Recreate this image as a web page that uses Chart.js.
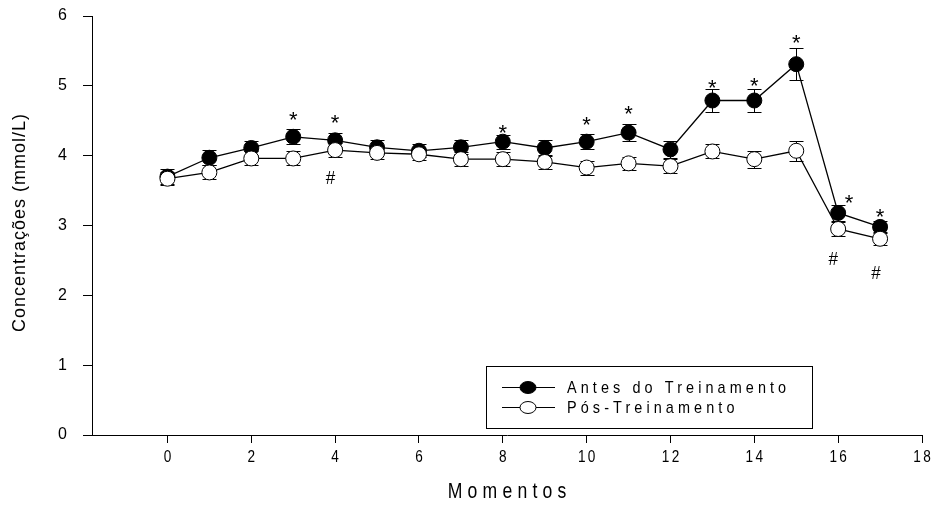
<!DOCTYPE html>
<html>
<head>
<meta charset="utf-8">
<script src="https://cdn.jsdelivr.net/npm/chart.js@4"></script>
<style>
  body { margin: 0; background: #fff; }
  #wrap { width: 935px; height: 506px; }
</style>
</head>
<body>
<div id="wrap"><canvas id="lineChart" width="935" height="506"></canvas></div>
<script>
// momentos de coleta
const momentos = [0, 1, 2, 3, 4, 5, 6, 7, 8, 9, 10, 11, 12, 13, 14, 15, 16, 17];

// Antes do Treinamento (media e erro padrao)
const antes    = [3.70, 3.97, 4.11, 4.27, 4.22, 4.12, 4.07, 4.12, 4.20, 4.11, 4.20, 4.33, 4.09, 4.79, 4.79, 5.31, 3.18, 2.98];
const antesErr = [0.11, 0.11, 0.10, 0.11, 0.10, 0.10, 0.09, 0.10, 0.10, 0.11, 0.11, 0.12, 0.12, 0.17, 0.17, 0.23, 0.11, 0.09];

// Pos-Treinamento
const pos    = [3.67, 3.76, 3.96, 3.96, 4.08, 4.04, 4.02, 3.95, 3.95, 3.91, 3.83, 3.89, 3.85, 4.06, 3.95, 4.07, 2.95, 2.81];
const posErr = [0.09, 0.10, 0.10, 0.10, 0.10, 0.09, 0.08, 0.10, 0.10, 0.10, 0.10, 0.09, 0.10, 0.10, 0.12, 0.14, 0.10, 0.09];

// marcas de significancia (* e #), em unidades do grafico
const starX = [3, 4, 8, 10, 11, 13, 14, 15, 16.26, 17.0];
const starY = [4.58, 4.54, 4.40, 4.51, 4.67, 5.04, 5.07, 5.68, 3.40, 3.19];
const hashX = [3.89, 15.88, 16.9];
const hashY = [3.67, 2.51, 2.31];

const xTicks = [0, 2, 4, 6, 8, 10, 12, 14, 16, 18];
const yTicks = [0, 1, 2, 3, 4, 5, 6];

const FONT = '"Liberation Sans", Arial, sans-serif';

function toXY(ys) {
    return momentos.map((m, i) => ({ x: m, y: ys[i] }));
}

// texto com espacamento entre letras
function drawText(ctx, s, x, y, o) {
    ctx.save();
    ctx.font = o.font;
    ctx.letterSpacing = (o.sp || 0) + 'px';
    ctx.textBaseline = 'middle';
    ctx.textAlign = 'left';
    ctx.fillStyle = '#000';
    ctx.translate(x, y);
    if (o.rot) ctx.rotate(o.rot);
    ctx.scale(o.sx || 1, 1);
    const w = ctx.measureText(s).width - (o.sp || 0);
    let start = -w / 2;
    if (o.align === 'left') start = 0;
    if (o.align === 'right') start = -w;
    ctx.fillText(s, start, 0);
    ctx.restore();
}

const errorBars = {
    id: 'errorBars',
    beforeDatasetsDraw(chart) {
        const ctx = chart.ctx;
        const xs = chart.scales.x, ys = chart.scales.y;
        const series = [[antes, antesErr], [pos, posErr]];
        ctx.save();
        ctx.strokeStyle = '#000';
        ctx.lineWidth = 1;
        series.forEach(([vals, errs]) => {
            vals.forEach((v, i) => {
                const px = Math.round(xs.getPixelForValue(momentos[i])) + 0.5;
                const top = Math.round(ys.getPixelForValue(v + errs[i])) + 0.5;
                const bot = Math.round(ys.getPixelForValue(v - errs[i])) + 0.5;
                ctx.beginPath();
                ctx.moveTo(px, top); ctx.lineTo(px, bot);
                ctx.moveTo(px - 7, top); ctx.lineTo(px + 7, top);
                ctx.moveTo(px - 7, bot); ctx.lineTo(px + 7, bot);
                ctx.stroke();
            });
        });
        ctx.restore();
    }
};

const extras = {
    id: 'extras',
    afterDraw(chart) {
        const ctx = chart.ctx;
        const xs = chart.scales.x, ys = chart.scales.y;
        const ca = chart.chartArea;

        // * e #
        starX.forEach((v, i) => {
            drawText(ctx, '*', xs.getPixelForValue(v), ys.getPixelForValue(starY[i]) + 6, { font: '22px ' + FONT });
        });
        hashX.forEach((v, i) => {
            drawText(ctx, '#', xs.getPixelForValue(v), ys.getPixelForValue(hashY[i]), { font: '19px ' + FONT, sx: 0.9 });
        });

        // rotulos do eixo x
        xTicks.forEach(t => {
            drawText(ctx, String(t), xs.getPixelForValue(t), ca.bottom + 22, { font: '17px ' + FONT, sp: 3, sx: 0.8 });
        });

        // titulos dos eixos
        drawText(ctx, 'Momentos', (ca.left + ca.right) / 2, 492, { font: '22px ' + FONT, sp: 6.5, sx: 0.8 });
        drawText(ctx, 'Concentrações (mmol/L)', 20, 223, { font: '18px ' + FONT, sp: 1, rot: -Math.PI / 2 });

        // legenda
        const lx = ca.left + 394, ly = ca.top + 350;
        ctx.save();
        ctx.strokeStyle = '#000';
        ctx.lineWidth = 1;
        ctx.strokeRect(lx + 0.5, ly + 0.5, 326, 62);
        const rows = [
            { label: 'Antes do Treinamento', fill: '#000', y: ly + 21 },
            { label: 'Pós-Treinamento', fill: '#fff', y: ly + 41 }
        ];
        rows.forEach(r => {
            ctx.beginPath();
            ctx.moveTo(lx + 16, r.y + 0.5);
            ctx.lineTo(lx + 69, r.y + 0.5);
            ctx.stroke();
            ctx.beginPath();
            ctx.ellipse(lx + 42, r.y + 0.5, 8, 6, 0, 0, Math.PI * 2);
            ctx.fillStyle = r.fill;
            ctx.fill();
            ctx.stroke();
            drawText(ctx, r.label, lx + 81, r.y + 1, { font: '17px ' + FONT, sp: 4.8, sx: 0.85, align: 'left' });
        });
        ctx.restore();
    }
};

new Chart(document.getElementById('lineChart').getContext('2d'), {
    type: 'line',
    data: {
        datasets: [{
            label: 'Antes do Treinamento',
            data: toXY(antes),
            borderColor: '#000',
            borderWidth: 1.3,
            backgroundColor: '#000',
            pointBackgroundColor: '#000',
            pointBorderColor: '#000',
            pointRadius: 7.5,
            pointBorderWidth: 1,
            order: 2
        }, {
            label: 'Pós-Treinamento',
            data: toXY(pos),
            borderColor: '#000',
            borderWidth: 1.3,
            backgroundColor: '#fff',
            pointBackgroundColor: '#fff',
            pointBorderColor: '#000',
            pointRadius: 7.5,
            pointBorderWidth: 1,
            order: 1
        }]
    },
    options: {
        responsive: false,
        devicePixelRatio: 1,
        animation: false,
        layout: { autoPadding: false, padding: { left: 0, right: 13, top: 16, bottom: 0 } },
        plugins: {
            legend: { display: false },
            tooltip: { enabled: false }
        },
        scales: {
            x: {
                type: 'linear',
                min: -1.8,
                max: 18,
                afterBuildTicks: s => { s.ticks = xTicks.map(v => ({ value: v })); },
                afterFit: s => { s.height = 71; s.paddingLeft = 0; s.paddingRight = 0; },
                ticks: { display: false },
                grid: { drawOnChartArea: false, drawTicks: true, tickLength: 8, color: '#000' },
                border: { display: true, color: '#000', width: 1 }
            },
            y: {
                min: 0,
                max: 6,
                afterBuildTicks: s => { s.ticks = yTicks.map(v => ({ value: v })); },
                afterFit: s => { s.width = 92; s.paddingTop = 0; s.paddingBottom = 0; },
                ticks: { color: '#000', padding: 16, font: { family: FONT, size: 16 } },
                grid: { drawOnChartArea: false, drawTicks: true, tickLength: 9, color: '#000' },
                border: { display: true, color: '#000', width: 1 }
            }
        }
    },
    plugins: [errorBars, extras]
});
</script>
</body>
</html>
